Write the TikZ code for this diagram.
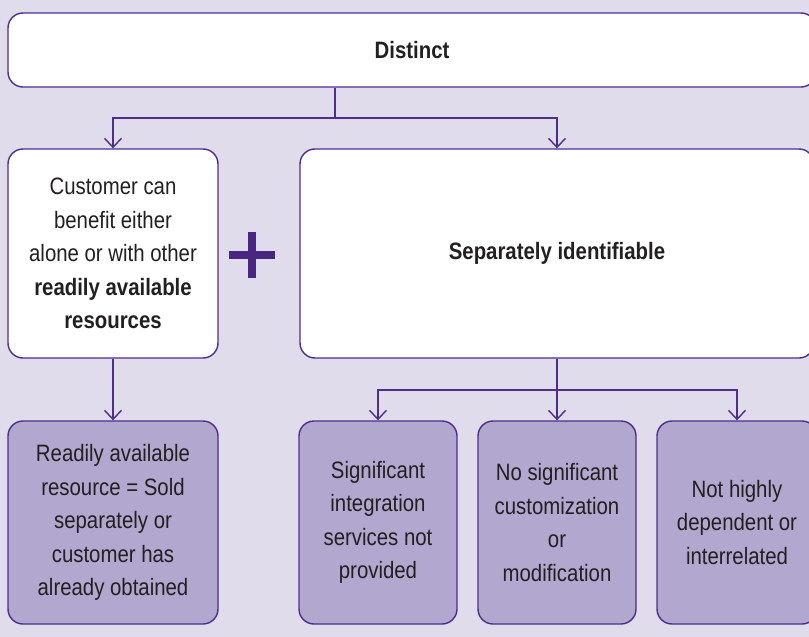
\documentclass[tikz,border=0pt]{standalone}
\usepackage{fontspec}
\setmainfont[FakeStretch=0.86]{Liberation Sans}
\usepackage{tikz}
\usetikzlibrary{positioning, arrows.meta}

\definecolor{bgpurple}{HTML}{E1DCEC}
\definecolor{linepurple}{HTML}{4E2D8C}
\definecolor{boxpurple}{HTML}{B2A7CE}
\definecolor{plusviolet}{HTML}{4A2683}
\definecolor{textgray}{HTML}{231F20}

\tikzset{
    card/.style={draw=linepurple, line width=0.7pt, rounded corners=7.5pt, align=center,
        text=textgray, inner sep=0pt, font=\fontsize{11.85}{16.75}\selectfont},
    whitecard/.style={card, fill=white},
    tintcard/.style={card, fill=boxpurple},
    link/.style={draw=linepurple, line width=0.7pt},
    arrowlink/.style={link, -{Straight Barb[length=4.5pt, width=8.5pt]}}
}

\begin{document}
\begin{tikzpicture}
    % Background
    \fill [bgpurple] (0, 0) rectangle (404.5pt, -318.5pt);
    \useasboundingbox (0, 0) rectangle (404.5pt, -318.5pt);
    \clip (0, 0) rectangle (404.5pt, -318.5pt);
    % Top box
    \node (distinct) at (206pt, -25pt) [whitecard, minimum width=404pt, minimum height=37pt] {\textbf{Distinct}};
    % Middle boxes
    \node (benefit) at (56.5pt, -126.75pt) [whitecard, minimum width=105pt, minimum height=104.5pt]
        {Customer can\\benefit either\\alone or with other\\\textbf{readily available}\\\textbf{resources}};
    \node (separate) at (278.5pt, -126.75pt) [whitecard, minimum width=257pt, minimum height=104.5pt]
        {\textbf{Separately identifiable}};
    % Plus sign
    \fill [plusviolet] (114.5pt, -125.3pt) rectangle (137.5pt, -129.6pt);
    \fill [plusviolet] (124pt, -116pt) rectangle (128pt, -138.9pt);
    % Bottom boxes
    \node (sold) at (56.5pt, -261.25pt) [tintcard, minimum width=105pt, minimum height=101.5pt]
        {Readily available\\resource = Sold\\separately or\\customer has\\already obtained};
    \node (integration) at (189pt, -261.25pt) [tintcard, minimum width=79pt, minimum height=101.5pt]
        {Significant\\integration\\services not\\provided};
    \node (custom) at (278.5pt, -261.25pt) [tintcard, minimum width=79pt, minimum height=101.5pt]
        {No significant\\customization\\or\\modification};
    \node (depend) at (368.5pt, -261.25pt) [tintcard, minimum width=80pt, minimum height=101.5pt]
        {Not highly\\dependent or\\interrelated};
    % Connectors from the top
    \coordinate (topsplit) at (167.5pt, -59pt);
    \draw [link] (distinct.south -| topsplit) -- (topsplit);
    \draw [arrowlink] (topsplit) -| (benefit.north);
    \draw [arrowlink] (topsplit) -| (separate.north);
    \draw [arrowlink] (benefit.south) -- (sold.north);
    % Connectors from separately identifiable
    \coordinate (lowsplit) at (278.5pt, -195pt);
    \draw [link] (separate.south) -- (lowsplit);
    \draw [arrowlink] (lowsplit) -| (integration.north);
    \draw [arrowlink] (lowsplit) -- (custom.north);
    \draw [arrowlink] (lowsplit) -| (depend.north);
\end{tikzpicture}
\end{document}
